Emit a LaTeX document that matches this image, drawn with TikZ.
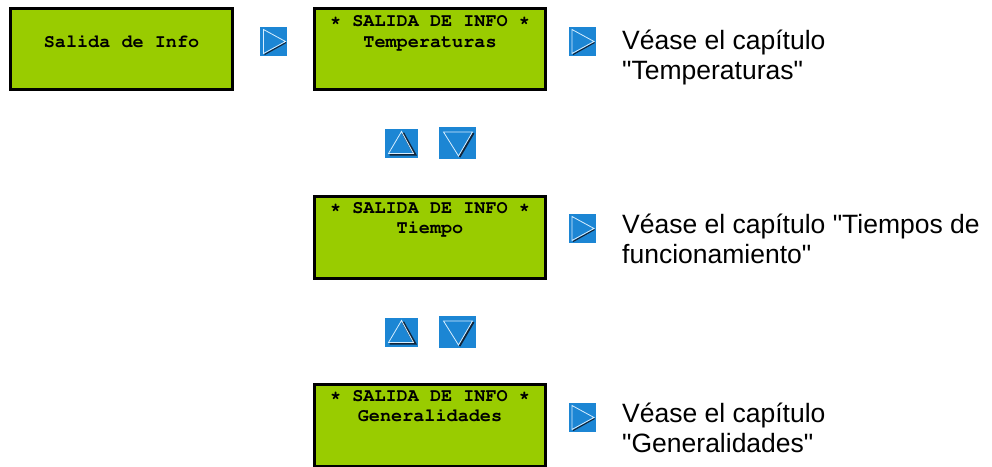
\documentclass[tikz,border=0pt]{standalone}
\usepackage[T1]{fontenc}
\usepackage{fontspec}
\setmainfont{Liberation Sans}
\definecolor{lcd_green}{RGB}{153, 204, 0}
\definecolor{btn_blue}{RGB}{28, 134, 212}
\definecolor{btn_line}{RGB}{215, 238, 255}
\definecolor{btn_shadow}{RGB}{18, 36, 56}
\tikzstyle{lcd}=[rectangle,fill=lcd_green,draw=black,
  line width=3pt,inner sep=0pt,minimum width=231pt,minimum height=81.5pt]
\tikzstyle{lcdtext}=[anchor=base,inner sep=0pt,
  font=\fontencoding{T1}\fontfamily{pcr}\fontseries{b}\fontsize{18.5}{20}\selectfont]
\tikzstyle{note}=[anchor=base west,inner sep=0pt,align=left,
  font=\fontsize{26.5}{30}\selectfont]
\tikzstyle{btn}=[rectangle,fill=btn_blue,inner sep=0pt]
\tikzstyle{btnright}=[btn,minimum width=27pt,minimum height=29pt,path picture={
  \draw[btn_shadow,line width=1.2pt] ([xshift=-9pt,yshift=-13pt]path picture bounding box.center)
    -- ([xshift=12.5pt,yshift=-1pt]path picture bounding box.center);
  \draw[btn_line,line width=0.8pt] ([xshift=-10pt,yshift=12pt]path picture bounding box.center)
    -- ([xshift=-10pt,yshift=-12pt]path picture bounding box.center)
    -- ([xshift=12pt]path picture bounding box.center) -- cycle;}]
\tikzstyle{btnup}=[btn,minimum width=33pt,minimum height=29pt,path picture={
  \draw[btn_shadow,line width=2.4pt] ([xshift=1.5pt,yshift=10.5pt]path picture bounding box.center)
    -- ([xshift=13.5pt,yshift=-11pt]path picture bounding box.center)
    -- ([xshift=-12pt,yshift=-11pt]path picture bounding box.center);
  \draw[btn_line,line width=0.8pt] ([yshift=12pt]path picture bounding box.center)
    -- ([xshift=-13pt,yshift=-10pt]path picture bounding box.center)
    -- ([xshift=12pt,yshift=-10pt]path picture bounding box.center) -- cycle;}]
\tikzstyle{btndown}=[btn,minimum width=37pt,minimum height=32pt,path picture={
  \draw[btn_shadow,line width=2pt] ([xshift=16pt,yshift=10pt]path picture bounding box.center)
    -- ([xshift=2pt,yshift=-14pt]path picture bounding box.center);
  \draw[btn_line,line width=0.8pt] ([xshift=-14pt,yshift=11pt]path picture bounding box.center)
    -- ([xshift=15pt,yshift=11pt]path picture bounding box.center)
    -- ([xshift=1pt,yshift=-13pt]path picture bounding box.center) -- cycle;}]

\begin{document}
\begin{tikzpicture}[x=1pt,y=-1pt]
    \useasboundingbox (0,0) rectangle (992,466);
    \node [style=lcd,minimum width=222pt] (info) at (121.5,49) {};
    \node [style=lcdtext] (infotxt) at (121.5,47) {Salida de Info};
    \node [style=btnright] (enter) at (273.5,41.5) {};
    \node [style=lcd] (temp) at (430,49) {};
    \node [style=lcdtext] (temphead) at (430,26) {* SALIDA DE INFO *};
    \node [style=lcdtext] (temptxt) at (430,47) {Temperaturas};
    \node [style=btnright] (tempgo) at (582,41.5) {};
    \node [style=note] (tempnote) at (622,79) {Véase el capítulo\\\textquotedbl Temperaturas\textquotedbl};
    \node [style=btnup] (up1) at (401.5,143.5) {};
    \node [style=btndown] (down1) at (457.5,143) {};
    \node [style=lcd] (time) at (430,237.5) {};
    \node [style=lcdtext] (timehead) at (430,213) {* SALIDA DE INFO *};
    \node [style=lcdtext] (timetxt) at (430,233) {Tiempo};
    \node [style=btnright] (timego) at (582,228.5) {};
    \node [style=note] (timenote) at (622,263) {Véase el capítulo \textquotedbl Tiempos de\\funcionamiento\textquotedbl};
    \node [style=btnup] (up2) at (401.5,332.5) {};
    \node [style=btndown] (down2) at (457.5,332) {};
    \node [style=lcd] (gen) at (430,425.5) {};
    \node [style=lcdtext] (genhead) at (430,401) {* SALIDA DE INFO *};
    \node [style=lcdtext] (gentxt) at (430,421) {Generalidades};
    \node [style=btnright] (gengo) at (582,417.5) {};
    \node [style=note] (gennote) at (622,452) {Véase el capítulo\\\textquotedbl Generalidades\textquotedbl};
  \end{tikzpicture}
\end{document}
